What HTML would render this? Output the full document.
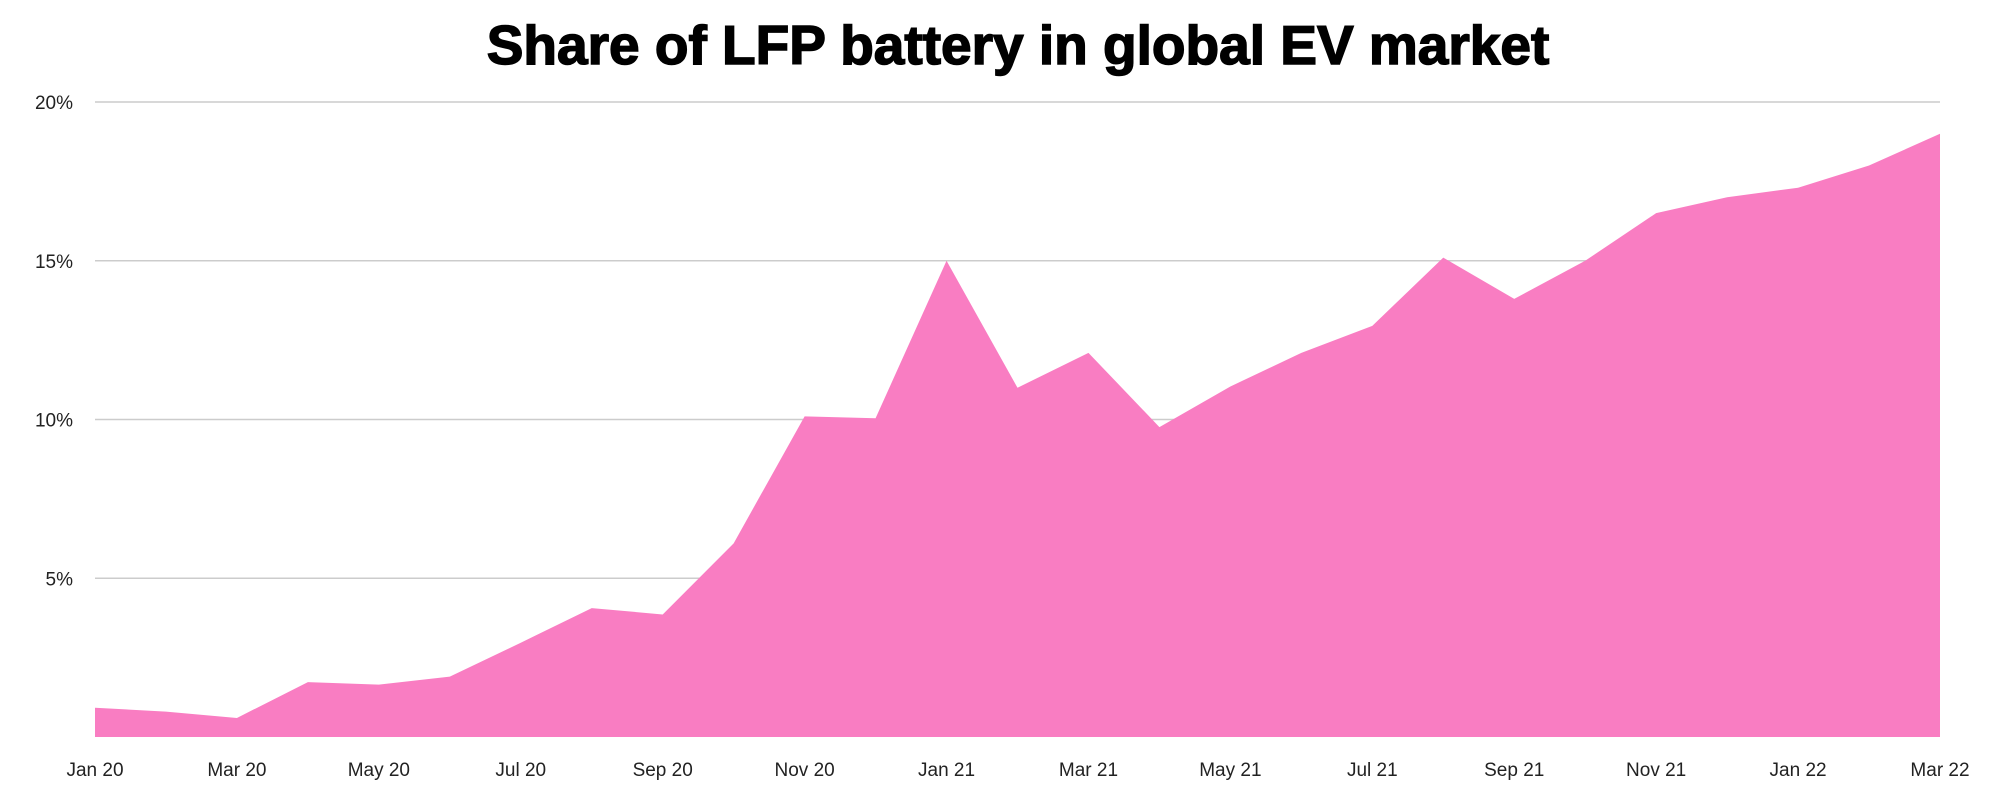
<!DOCTYPE html>
<html><head><meta charset="utf-8"><style>
html,body{margin:0;padding:0;background:#fff;width:2000px;height:799px;overflow:hidden}
svg{display:block}
</style></head><body>
<svg id="chart" width="2000" height="799" font-family="Liberation Sans, sans-serif">
<text x="1018" y="64" text-anchor="middle" font-size="55" font-weight="900" fill="#000" stroke="#000" stroke-width="1.5">Share of LFP battery in global EV market</text>
<g id="grid"></g>
<g id="area"></g>
<g id="yticks"></g>
<g id="xticks"></g>
</svg>
<script>
const months = ["Jan 20","Feb 20","Mar 20","Apr 20","May 20","Jun 20","Jul 20","Aug 20","Sep 20","Oct 20","Nov 20","Dec 20","Jan 21","Feb 21","Mar 21","Apr 21","May 21","Jun 21","Jul 21","Aug 21","Sep 21","Oct 21","Nov 21","Dec 21","Jan 22","Feb 22","Mar 22"];
const shareValues = [0.92,0.8,0.6,1.73,1.65,1.9,2.97,4.06,3.86,6.1,10.1,10.04,15.0,11.0,12.1,9.76,11.04,12.1,12.95,15.1,13.8,15.0,16.5,17.0,17.3,18.0,19.0];
const yTicks = [5,10,15,20];
const yTickLabels = ["5%","10%","15%","20%"];
const xTickIdx = [0,2,4,6,8,10,12,14,16,18,20,22,24,26];

const NS="http://www.w3.org/2000/svg";
const L=95,R=1940,T=102,B=737,YMAX=20;
const xs=i=>L+(R-L)*i/(months.length-1);
const ys=v=>B-(B-T)*v/YMAX;
function mk(tag,attrs,parent){const e=document.createElementNS(NS,tag);for(const k in attrs)e.setAttribute(k,attrs[k]);parent.appendChild(e);return e;}

const grid=document.getElementById('grid'),yt=document.getElementById('yticks'),xt=document.getElementById('xticks'),area=document.getElementById('area');
yTicks.forEach((v,i)=>{
  const ln=mk('line',{x1:L,x2:R,y1:ys(v),y2:ys(v),stroke:'#cccccc','stroke-width':1.5},grid);
  
  
  const t=mk('text',{x:73,y:ys(v)+7,'text-anchor':'end','font-size':19,fill:'#222'},yt);
  t.textContent=yTickLabels[i];
  
  
});
let d='M'+xs(0)+','+B;
shareValues.forEach((v,i)=>{d+=' L'+xs(i)+','+ys(v);});
d+=' L'+xs(shareValues.length-1)+','+B+' Z';
const p=mk('path',{d:d,fill:'#f97dc2'},area);


xTickIdx.forEach(i=>{
  const t=mk('text',{x:xs(i),y:776,'text-anchor':'middle','font-size':19,fill:'#222'},xt);
  t.textContent=months[i];
  
  
});
</script>
</body></html>
